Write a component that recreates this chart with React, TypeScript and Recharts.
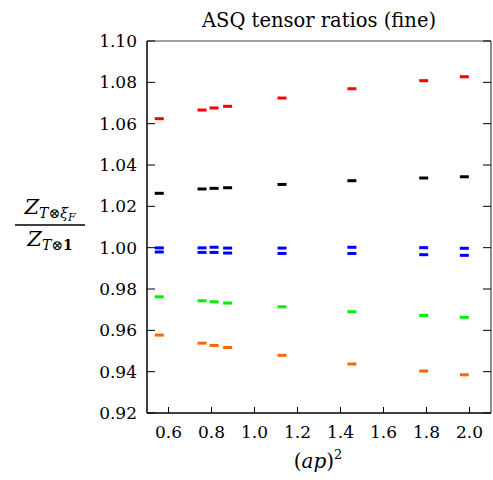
import React from 'react';
import { ScatterChart, Scatter, XAxis, YAxis } from 'recharts';

const xValues = [0.557, 0.756, 0.812, 0.875, 1.128, 1.453, 1.787, 1.976];
const redValues = [1.0624, 1.0666, 1.0676, 1.0684, 1.0724, 1.0769, 1.0808, 1.0827];
const blackValues = [1.0263, 1.0284, 1.0287, 1.029, 1.0306, 1.0324, 1.0337, 1.0343];
const blueUpperValues = [0.9999, 0.9999, 1.0002, 0.9998, 0.9998, 1.0002, 1.0, 0.9997];
const blueLowerValues = [0.9979, 0.9977, 0.9977, 0.9974, 0.9972, 0.9972, 0.9966, 0.9963];
const greenValues = [0.9762, 0.9743, 0.9738, 0.9732, 0.9714, 0.969, 0.9672, 0.9663];
const orangeValues = [0.9577, 0.9538, 0.9527, 0.9517, 0.9479, 0.9437, 0.9403, 0.9385];

const xTicks = [0.6, 0.8, 1.0, 1.2, 1.4, 1.6, 1.8, 2.0];
const yTicks = [0.92, 0.94, 0.96, 0.98, 1.0, 1.02, 1.04, 1.06, 1.08, 1.1];

const series = [
  { name: 'red', color: '#ff0000', values: redValues },
  { name: 'black', color: '#000000', values: blackValues },
  { name: 'blueUpper', color: '#0000ff', values: blueUpperValues },
  { name: 'blueLower', color: '#0000ff', values: blueLowerValues },
  { name: 'green', color: '#00ee00', values: greenValues },
  { name: 'orange', color: '#ff6600', values: orangeValues },
];

const FONT = '"DejaVu Serif", serif';

const makeDash = (color: string) => (props: any) => {
  const { cx, cy } = props;
  if (cx == null || cy == null) return <g />;
  return <rect x={cx - 4.5} y={cy - 1.5} width={9} height={3} fill={color} />;
};

const XTick = (props: any) => {
  const { x, y, payload } = props;
  return (
    <text x={x} y={y + 12} textAnchor="middle" fontSize={17} fontFamily={FONT} fill="#000">
      {Number(payload.value).toFixed(1)}
    </text>
  );
};

const YTick = (props: any) => {
  const { x, y, payload } = props;
  return (
    <text x={x} y={y + 6} textAnchor="end" fontSize={17} fontFamily={FONT} fill="#000">
      {Number(payload.value).toFixed(2)}
    </text>
  );
};

export default function App() {
  const W = 485;
  const H = 472;
  return (
    <div style={{ position: 'absolute', left: 8, top: 8, width: W, height: H, fontFamily: FONT }}>
      <ScatterChart width={W} height={H} margin={{ top: 32, right: 1, bottom: 0, left: 0 }}>
        <XAxis
          xAxisId="b"
          type="number"
          dataKey="x"
          domain={[0.5, 2.1]}
          ticks={xTicks}
          allowDataOverflow
          height={67}
          tickSize={-6}
          tickMargin={19}
          axisLine={{ stroke: '#000', strokeWidth: 1.5 }}
          tickLine={{ stroke: '#000' }}
          tick={<XTick />}
        />
        <XAxis
          xAxisId="t"
          orientation="top"
          type="number"
          dataKey="x"
          domain={[0.5, 2.1]}
          allowDataOverflow
          height={1}
          tick={false}
          tickLine={false}
          axisLine={{ stroke: '#444', strokeWidth: 1 }}
        />
        <YAxis
          yAxisId="l"
          type="number"
          dataKey="y"
          domain={[0.92, 1.1]}
          ticks={yTicks}
          allowDataOverflow
          width={139}
          tickSize={-8}
          tickMargin={18}
          axisLine={{ stroke: '#000', strokeWidth: 1.5 }}
          tickLine={{ stroke: '#000' }}
          tick={<YTick />}
        />
        <YAxis
          yAxisId="r"
          orientation="right"
          type="number"
          dataKey="y"
          domain={[0.92, 1.1]}
          ticks={yTicks}
          allowDataOverflow
          width={1}
          tickSize={-8}
          tickMargin={0}
          axisLine={{ stroke: '#444', strokeWidth: 1.2 }}
          tickLine={{ stroke: '#000' }}
          tick={{ fontSize: 1, fill: 'none' }}
          tickFormatter={() => ''}
        />
        {series.map((s) => (
          <Scatter
            key={s.name}
            name={s.name}
            xAxisId="b"
            yAxisId="l"
            data={xValues.map((x, i) => ({ x, y: s.values[i] }))}
            shape={makeDash(s.color)}
            isAnimationActive={false}
          />
        ))}
      </ScatterChart>
      <svg
        width={W}
        height={H}
        style={{ position: 'absolute', left: 0, top: 0, pointerEvents: 'none' }}
        fontFamily={FONT}
      >
        <text x={311} y={19} textAnchor="middle" fontSize={19.5} fill="#000">
          ASQ tensor ratios (fine)
        </text>
        <text x={310} y={460} textAnchor="middle" fontSize={20} fill="#000">
          (<tspan fontStyle="italic">ap</tspan>)<tspan dy={-9} fontSize={13}>2</tspan>
        </text>
        <text x={42} y={206} textAnchor="middle" fontSize={21} fill="#000">
          <tspan fontStyle="italic">Z</tspan>
          <tspan dy={4} fontSize={14} fontStyle="italic">T</tspan>
          <tspan fontSize={14}>⊗</tspan>
          <tspan fontSize={14} fontStyle="italic">ξ</tspan>
          <tspan dy={3} fontSize={11} fontStyle="italic">F</tspan>
        </text>
        <line x1={7} x2={77} y1={217} y2={217} stroke="#000" strokeWidth={1.6} />
        <text x={42} y={238} textAnchor="middle" fontSize={21} fill="#000">
          <tspan fontStyle="italic">Z</tspan>
          <tspan dy={4} fontSize={14} fontStyle="italic">T</tspan>
          <tspan fontSize={14}>⊗</tspan>
          <tspan fontSize={14} fontWeight="bold">1</tspan>
        </text>
      </svg>
    </div>
  );
}
